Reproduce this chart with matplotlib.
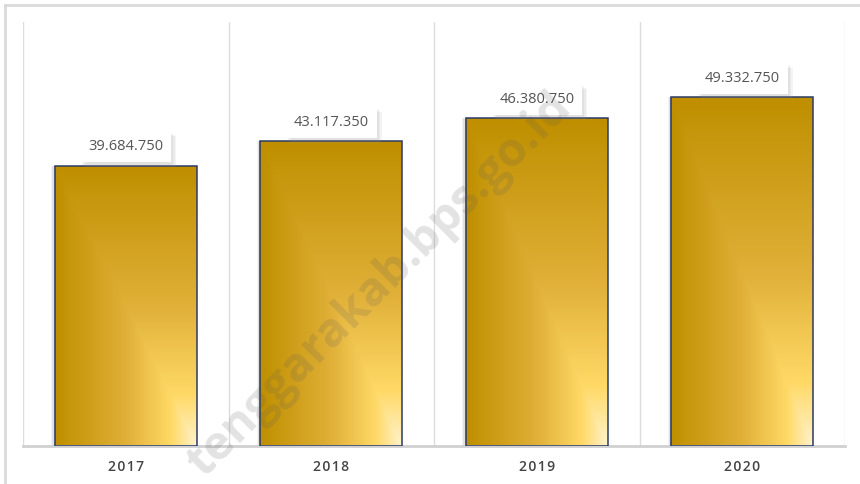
import numpy as np
import matplotlib
matplotlib.use("Agg")
import matplotlib.pyplot as plt
from matplotlib.colors import LinearSegmentedColormap
from matplotlib.patches import Rectangle
from matplotlib import patheffects as pe
from matplotlib.lines import Line2D

years = ["2017", "2018", "2019", "2020"]
values = [39684750, 43117350, 46380750, 49332750]
value_labels = ["39.684.750", "43.117.350", "46.380.750", "49.332.750"]
watermark = "tenggarakab.bps.go.id"

FONT = ["Open Sans", "DejaVu Sans"]

fig = plt.figure(figsize=(8.6, 4.84), dpi=100)
fig.patch.set_facecolor("white")

# outer frame lines (top and left)
fig.add_artist(Line2D([5/860, 1.0], [1-5/484, 1-5/484], color="#DADADA", lw=2, transform=fig.transFigure))
fig.add_artist(Line2D([5/860, 5/860], [0, 1-5/484], color="#DADADA", lw=2, transform=fig.transFigure))

ax = fig.add_axes([23/860, 1-446/484, (845-23)/860, (446-22)/484])
ax.set_xlim(-0.5, len(years)-0.5)
ax.set_ylim(0, 60e6)
for s in ["top", "left", "right"]:
    ax.spines[s].set_visible(False)
ax.spines["bottom"].set_color("#D0D0D0")
ax.spines["bottom"].set_linewidth(2)
ax.set_yticks([])
ax.tick_params(axis="x", length=0, pad=10)
ax.set_xticks(range(len(years)))
ax.set_xticklabels(["\u200a".join(y) for y in years], fontfamily=FONT,
                   fontsize=10, fontweight="semibold", color="#444444")

for xg in np.arange(-0.5, len(years), 1.0):
    ax.axvline(xg, color="#DCDCDC", lw=1, zorder=0)

cmap = LinearSegmentedColormap.from_list(
    "gold", [(0, "#BF8F00"), (0.5, "#E0B038"), (0.82, "#FFD966"), (1.0, "#FFF2CC")])
n = 200
u = np.linspace(0, 1, n)[None, :]
v = np.linspace(0, 1, n)[:, None]
grad = np.minimum(u * np.ones((n, 1)), v * np.ones((1, n)))

width = 0.69
bars = ax.bar(range(len(years)), values, width=width, color="none",
              edgecolor="#2B3A67", linewidth=1.1, zorder=3)
for i, b in enumerate(bars):
    x0, w, h = b.get_x(), b.get_width(), b.get_height()
    # soft shadow on the left
    for k, a in enumerate([0.18, 0.12, 0.07]):
        sh = Rectangle((x0 - 0.006 * (k + 1), 0), w, h, facecolor="#606060", alpha=a,
                       edgecolor="none", zorder=1)
        ax.add_patch(sh)
    im = ax.imshow(grad, cmap=cmap, extent=[x0, x0 + w, 0, h], origin="upper",
                   aspect="auto", zorder=2, interpolation="bilinear")
    im.set_clip_path(b)
    t = ax.annotate(value_labels[i], (b.get_x() + w/2, h), xytext=(0, 8),
                    textcoords="offset points", ha="center", va="bottom",
                    fontsize=10.5, color="#555555", fontfamily=FONT, zorder=5,
                    bbox=dict(boxstyle="square,pad=0.55", fc="white", ec="none"))
    t.get_bbox_patch().set_path_effects(
        [pe.withSimplePatchShadow(offset=(o, -o), shadow_rgbFace="#909090", alpha=0.09)
         for o in (3.5, 2.5, 1.5)] + [pe.Normal()])

ax.set_xlim(-0.5, len(years)-0.5)
ax.set_ylim(0, 60e6)

fig.text(212/860, 1-486/484, watermark, rotation=45, rotation_mode="anchor",
         ha="left", va="bottom", fontsize=34, fontweight="bold",
         fontfamily=FONT, color="#5A5A5A", alpha=0.17, zorder=10)

fig.savefig("out.png", dpi=100, facecolor="white")
